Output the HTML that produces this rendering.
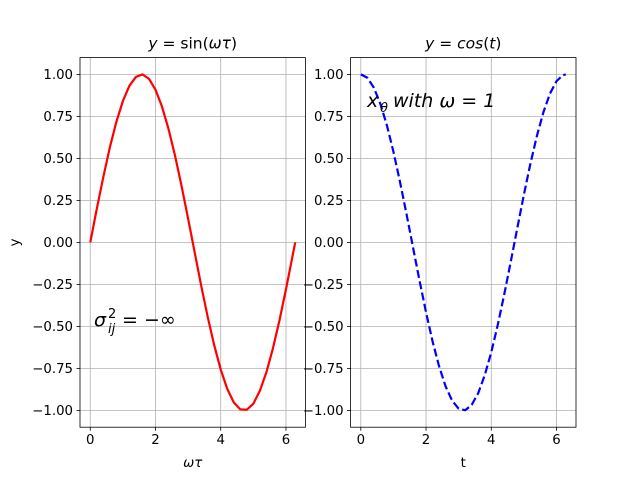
<!DOCTYPE html>
<html><head><meta charset="utf-8"><style>
body{margin:0;background:#fff}
svg{font-family:"DejaVu Sans","Liberation Sans",sans-serif}
</style></head><body>
<svg id="c" width="640" height="480" xmlns="http://www.w3.org/2000/svg"></svg>
<script>
const tVals=[0,0.2,0.4,0.6,0.8,1.0,1.2,1.4,1.6,1.8,2.0,2.2,2.4,2.6,2.8,3.0,3.2,3.4,3.6,3.8,4.0,4.2,4.4,4.6,4.8,5.0,5.2,5.4,5.6,5.8,6.0,6.2,6.283];
const sinVals=[0,.199,.389,.565,.717,.841,.932,.985,1.0,.974,.909,.808,.675,.516,.335,.141,-.058,-.256,-.443,-.612,-.757,-.872,-.952,-.994,-.996,-.960,-.883,-.773,-.631,-.465,-.279,-.083,0];
const cosVals=[1,.980,.921,.825,.697,.540,.362,.170,-.029,-.227,-.416,-.589,-.737,-.857,-.942,-.990,-.999,-.967,-.897,-.790,-.654,-.490,-.307,-.112,.087,.284,.469,.635,.776,.886,.960,.996,1];
const xTicks=[0,2,4,6];
const yTicks=[-1,-0.75,-0.5,-0.25,0,0.25,0.5,0.75,1];
const NS="http://www.w3.org/2000/svg";
const svgEl=document.getElementById('c');
function mk(tag,attrs,parent){const e=document.createElementNS(NS,tag);for(const k in attrs)e.setAttribute(k,attrs[k]);(parent||svgEl).appendChild(e);return e;}
const T0=57.6,B0=427.2,xmin=-0.31416,xmax=6.59734,ymin=-1.1,ymax=1.1;
function panel(L,R,ys,color,dash,title,xlabel,ylabel,name){
  const g=mk('g',{});
  
  
  const sx=v=>L+(v-xmin)/(xmax-xmin)*(R-L);
  const sy=v=>B0-(v-ymin)/(ymax-ymin)*(B0-T0);
  xTicks.forEach(v=>{const x=sx(v);
    mk('line',{x1:x,x2:x,y1:T0,y2:B0,stroke:'#b0b0b0','stroke-width':0.8},g);
    mk('line',{x1:x,x2:x,y1:B0,y2:B0+3.5,stroke:'#000','stroke-width':0.8},g);
    const t=mk('text',{x:x,y:B0+17,'text-anchor':'middle','font-size':13.3},g);t.textContent=v;
    
    });
  yTicks.forEach(v=>{const y=sy(v);
    mk('line',{x1:L,x2:R,y1:y,y2:y,stroke:'#b0b0b0','stroke-width':0.8},g);
    mk('line',{x1:L-3.5,x2:L,y1:y,y2:y,stroke:'#000','stroke-width':0.8},g);
    const t=mk('text',{x:L-7,y:y+4.5,'text-anchor':'end','font-size':13.3},g);t.textContent=(v<0?'\u2212':'')+Math.abs(v).toFixed(2);
    
    });
  const d=tVals.map((t,i)=>(i?'L':'M')+sx(t).toFixed(2)+','+sy(ys[i]).toFixed(2)).join(' ');
  const p=mk('path',{d:d,fill:'none',stroke:color,'stroke-width':2.2,'stroke-linejoin':'round'},g);
  if(dash)p.setAttribute('stroke-dasharray','8,3.5');
  
  
  mk('rect',{x:L,y:T0,width:R-L,height:B0-T0,fill:'none',stroke:'#000','stroke-width':0.8},g);
  const tt=mk('text',{x:(L+R)/2,y:T0-9,'text-anchor':'middle','font-size':15.5},g);tt.innerHTML=title;
  
  
  const xl=mk('text',{x:(L+R)/2,y:B0+40,'text-anchor':'middle','font-size':13.3},g);xl.innerHTML=xlabel;
  
  
  if(ylabel){const yl=mk('text',{x:19,y:(T0+B0)/2,'text-anchor':'middle','font-size':13.3,transform:'rotate(-90 19 '+(T0+B0)/2+')'},g);yl.textContent=ylabel;
    
    }
  return g;
}
panel(80,305.45,sinVals,'#ff0000',false,'<tspan font-style="italic">y</tspan> = sin(<tspan font-style="italic">ωτ</tspan>)','<tspan font-style="italic">ωτ</tspan>','y','left-panel');
panel(350.55,576,cosVals,'#0000ff',true,'<tspan font-style="italic">y</tspan> = <tspan font-style="italic">cos</tspan>(<tspan font-style="italic">t</tspan>)','t','','right-panel');
const a1=mk('g',{});


mk('text',{x:94,y:326,'font-size':19,'font-style':'italic'},a1).textContent='σ';
mk('text',{x:108,y:333,'font-size':13,'font-style':'italic'},a1).textContent='ij';
mk('text',{x:108,y:318,'font-size':13},a1).textContent='2';
mk('text',{x:122,y:326,'font-size':19},a1).textContent='= −∞';
const a2=mk('g',{});


mk('text',{x:367,y:107,'font-size':19,'font-style':'italic'},a2).textContent='x';
mk('text',{x:380,y:112,'font-size':13,'font-style':'italic'},a2).textContent='θ';
mk('text',{x:393,y:107,'font-size':19,'font-style':'italic'},a2).textContent='with ω = 1';
</script>
</body></html>
